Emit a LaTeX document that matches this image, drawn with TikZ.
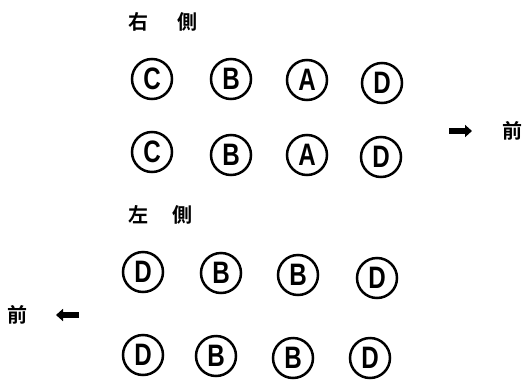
\documentclass[tikz,border=0pt]{standalone}
\usepackage{fontspec}
\setmainfont{Liberation Sans}
\newfontfamily\cjk{Noto Sans CJK JP}[BoldFont={Noto Sans CJK JP Bold}]
\usetikzlibrary{arrows.meta}
\newcommand{\lt}[1]{\scalebox{0.78}[1]{#1}}
\begin{document}
\begin{tikzpicture}[x=1pt,y=-1pt,
  seat/.style={circle,draw,line width=2.5pt,minimum size=40pt,inner sep=0pt,
    font=\fontsize{31}{31}\selectfont\bfseries},
  lbl/.style={font=\cjk\fontsize{20}{20}\selectfont\bfseries,inner sep=0pt},
  blk/.style={line width=5.5pt,-{Triangle[length=7pt,width=12pt]}}]
\useasboundingbox (0,0) rectangle (527,383);
% right side
\node[lbl] (r1) at (138,22) {右};
\node[lbl] (r2) at (187,22) {側};
\node[seat] (a1) at (152,79) {\lt{C}};
\node[seat] (a2) at (231,79) {\lt{B}};
\node[seat] (a3) at (307,80) {\lt{A}};
\node[seat] (a4) at (382,83) {\lt{D}};
\node[seat] (b1) at (152,152) {\lt{C}};
\node[seat] (b2) at (231,155) {\lt{B}};
\node[seat] (b3) at (307,155) {\lt{A}};
\node[seat] (b4) at (381,157) {\lt{D}};
\coordinate (ra0) at (449,131);
\coordinate (ra1) at (472,131);
\draw[blk] (ra0) -- (ra1);
\node[lbl] (fr) at (512,131) {前};
% left side
\node[lbl] (l1) at (138,215) {左};
\node[lbl] (l2) at (182,215) {側};
\node[seat] (c1) at (143,272) {\lt{D}};
\node[seat] (c2) at (221,273) {\lt{B}};
\node[seat] (c3) at (298,275) {\lt{B}};
\node[seat] (c4) at (377,278) {\lt{D}};
\node[seat] (d1) at (143,355) {\lt{D}};
\node[seat] (d2) at (216,356) {\lt{B}};
\node[seat] (d3) at (293,358) {\lt{B}};
\node[seat] (d4) at (370,358) {\lt{D}};
\node[lbl] (fl) at (18,315) {前};
\coordinate (la0) at (79,315);
\coordinate (la1) at (56,315);
\draw[blk] (la0) -- (la1);
\end{tikzpicture}
\end{document}
